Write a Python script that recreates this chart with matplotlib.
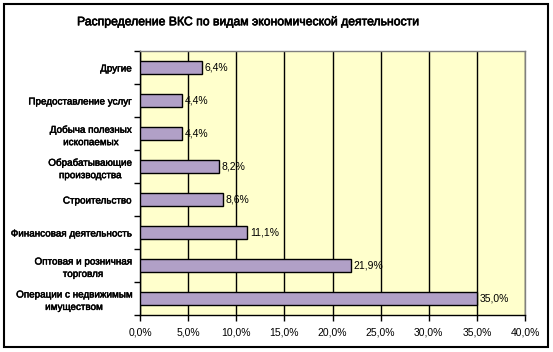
import matplotlib.pyplot as plt
import matplotlib.ticker as ticker
import matplotlib.patheffects as pe
from matplotlib.patches import Rectangle

plt.rcParams['font.family'] = ['Liberation Sans', 'DejaVu Sans']

categories = ['Другие', 'Предоставление услуг', 'Добыча полезных\nископаемых',
              'Обрабатывающие\nпроизводства', 'Строительство', 'Финансовая деятельность',
              'Оптовая и розничная\nторговля', 'Операции с недвижимым\nимуществом']
values = [6.4, 4.4, 4.4, 8.2, 8.6, 11.1, 21.9, 35.0]
xticks = [0, 5, 10, 15, 20, 25, 30, 35, 40]

W, H = 553, 352
fig = plt.figure(figsize=(W / 100, H / 100), dpi=100)
ax = fig.add_axes([140 / W, 1 - 315 / H, 385 / W, 264 / H])

# slightly heavier strokes, like the old Excel rendering
heavy = [pe.withStroke(linewidth=0.35, foreground='black')]

pos = list(range(len(categories)))
ax.barh(pos, values, height=0.4, color='#B1A0C7', edgecolor='black', linewidth=1.0, zorder=3)
ax.set_ylim(len(categories) - 0.5, -0.5)
ax.set_xlim(0, 40)
ax.set_facecolor('#FFFFCC')

ax.set_xticks(xticks)
ax.xaxis.set_major_formatter(ticker.FuncFormatter(lambda x, p: f'{x:.1f}%'.replace('.', ',')))
ax.xaxis.grid(True, color='black', linewidth=1.0, zorder=1)
ax.set_yticks(pos)
ax.set_yticklabels(categories, fontsize=7.1, linespacing=1.3, multialignment='center')
ax.set_yticks([p + 0.5 for p in [-1] + pos], minor=True)
ax.tick_params(axis='y', which='major', length=0, pad=6)
ax.tick_params(axis='y', which='minor', length=4, width=1, direction='out')
ax.tick_params(axis='x', length=4, width=1, labelsize=7.5, pad=5)
for lbl in ax.get_yticklabels():
    lbl.set_path_effects(heavy)

for s in ['top', 'right']:
    ax.spines[s].set_color('#808080')
    ax.spines[s].set_linewidth(1.0)
ax.spines['left'].set_linewidth(1.0)
ax.spines['bottom'].set_linewidth(1.0)

for p, v in zip(pos, values):
    ax.text(v + 0.3, p, f'{v:.1f}%'.replace('.', ','), va='center', ha='left', fontsize=7.5, zorder=4)

fig.text(249 / W, 1 - 22 / H, 'Распределение ВКС по видам экономической деятельности',
         ha='center', va='center', fontsize=8.8, path_effects=[pe.withStroke(linewidth=0.45, foreground='black')])

fig.patches.append(Rectangle((4 / W, 5 / H), 544 / W, 343 / H, transform=fig.transFigure,
                             fill=False, edgecolor='black', linewidth=1.5))

fig.savefig('out.png', dpi=100)
